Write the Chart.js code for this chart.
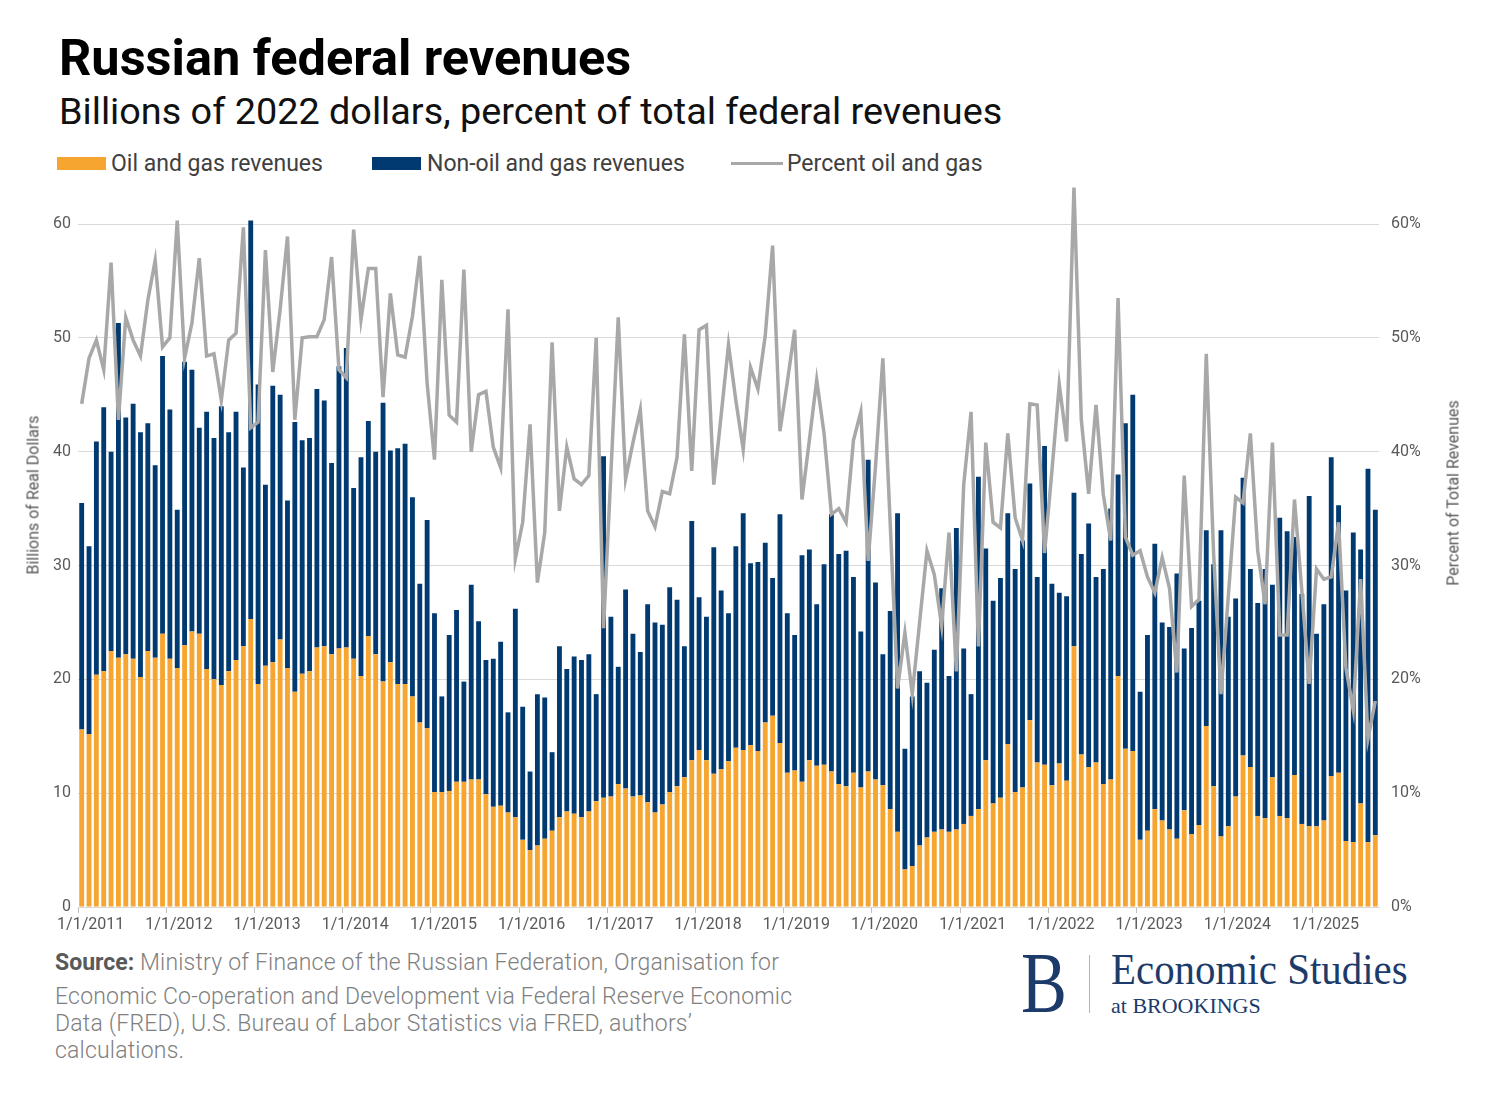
<!DOCTYPE html>
<html>
<head>
<meta charset="utf-8">
<title>Russian federal revenues</title>
<script src="https://cdn.jsdelivr.net/npm/chart.js@4.4.1/dist/chart.umd.min.js"></script>
<style>
    html, body { margin: 0; padding: 0; background: #fff; }
    #page { position: relative; width: 1500px; height: 1107px; overflow: hidden; font-family: Roboto, "Noto Sans", sans-serif; }
    .abs { position: absolute; white-space: nowrap; }
    #title { left: 59px; top: 33px; font-size: 50.5px; line-height: 50px; font-weight: 700; color: #000; }
    #subtitle { left: 59px; top: 93px; font-size: 37.8px; line-height: 37px; color: #111; }
    .lg-txt { top: 152px; font-size: 23px; line-height: 23px; color: #404040; }
    .lg-box { top: 157px; width: 49px; height: 13px; }
    .lg-line { top: 162px; width: 52px; height: 3px; background: #a8a8a8; }
    .axis-title { font-size: 16px; color: #595959; transform: translate(-50%, -50%) rotate(-90deg); }
    #wrap { position: absolute; left: 0; top: 182px; width: 1500px; height: 760px; }
    .src { left: 55px; font-size: 23px; line-height: 23px; font-weight: 300; letter-spacing: 0.2px; color: #7f7f7f; }
    .src b { font-weight: 700; color: #595959; letter-spacing: 0; }
    .logo { font-family: "Liberation Serif", "DejaVu Serif", serif; color: #1d3b6a; transform-origin: left top; }
</style>
</head>
<body>
<div id="page">
    <div id="title" class="abs">Russian federal revenues</div>
    <div id="subtitle" class="abs">Billions of 2022 dollars, percent of total federal revenues</div>

    <div class="abs lg-box" style="left:57px; background:#f5a530;"></div>
    <div class="abs lg-txt" style="left:111px;">Oil and gas revenues</div>
    <div class="abs lg-box" style="left:372px; background:#003a70;"></div>
    <div class="abs lg-txt" style="left:427px;">Non-oil and gas revenues</div>
    <div class="abs lg-line" style="left:731px;"></div>
    <div class="abs lg-txt" style="left:787px;">Percent oil and gas</div>

    <div id="wrap"><canvas id="chart"></canvas></div>

    <div class="abs axis-title" style="left:33px; top:495px;">Billions of Real Dollars</div>
    <div class="abs axis-title" style="left:1453px; top:493px;">Percent of Total Revenues</div>

    <div class="abs src" style="top:951px;"><b>Source:</b> Ministry of Finance of the Russian Federation, Organisation for</div>
    <div class="abs src" style="top:985px;">Economic Co-operation and Development via Federal Reserve Economic</div>
    <div class="abs src" style="top:1012px;">Data (FRED), U.S. Bureau of Labor Statistics via FRED, authors’</div>
    <div class="abs src" style="top:1039px;">calculations.</div>

    <div class="abs logo" style="left:1021px; top:940px; font-size:86px; line-height:86px; transform:scaleX(0.8);">B</div>
    <div class="abs" style="left:1089px; top:955px; width:1px; height:58px; background:#a9b3c2;"></div>
    <div class="abs logo" style="left:1111px; top:948px; font-size:44px; line-height:44px; transform:scaleX(0.93);">Economic Studies</div>
    <div class="abs logo" style="left:1111px; top:995px; font-size:22px; line-height:22px;">at BROOKINGS</div>
</div>

<script>
// DATA - monthly, Jan 2011 .. Sep 2025 (one row per year)
const years = ['2011', '2012', '2013', '2014', '2015', '2016', '2017', '2018', '2019', '2020', '2021', '2022', '2023', '2024', '2025'];

// billions of 2022 dollars
const oilGas = [
    15.6, 15.2, 20.4, 20.7, 22.5, 21.9, 22.2, 21.8, 20.2, 22.5, 21.9, 24.0,
    21.8, 21.0, 23.0, 24.2, 24.0, 20.9, 20.0, 19.5, 20.7, 21.7, 22.9, 25.3,
    19.6, 21.2, 21.5, 23.5, 21.0, 18.9, 20.5, 20.7, 22.8, 22.9, 22.2, 22.7,
    22.8, 21.8, 20.3, 23.8, 22.2, 19.8, 21.5, 19.6, 19.6, 18.5, 16.2, 15.7,
    10.1, 10.1, 10.2, 11.0, 11.0, 11.2, 11.2, 9.9, 8.8, 8.9, 8.3, 7.9,
    5.9, 5.0, 5.4, 6.0, 6.7, 7.9, 8.4, 8.2, 7.9, 8.4, 9.3, 9.6,
    9.7, 10.8, 10.4, 9.7, 9.8, 9.2, 8.3, 9.0, 10.1, 10.6, 11.4, 12.9,
    13.8, 12.9, 11.7, 12.1, 12.8, 14.0, 13.8, 14.2, 13.7, 16.2, 16.8, 14.4,
    11.8, 12.0, 11.0, 12.9, 12.4, 12.5, 11.9, 10.8, 10.6, 11.8, 10.5, 11.9,
    11.2, 10.7, 8.6, 6.6, 3.3, 3.6, 5.4, 6.1, 6.6, 6.8, 6.6, 6.8,
    7.3, 8.0, 8.6, 12.9, 9.1, 9.6, 14.3, 10.1, 10.5, 16.4, 12.7, 12.5,
    10.7, 12.6, 11.1, 22.9, 13.4, 12.3, 12.7, 10.8, 11.2, 20.3, 13.9, 13.7,
    5.9, 6.7, 8.6, 7.6, 6.8, 6.0, 8.5, 6.4, 7.2, 15.9, 10.6, 6.2,
    7.1, 9.7, 13.3, 12.3, 8.0, 7.8, 11.4, 8.0, 7.8, 11.6, 7.3, 7.1,
    7.1, 7.6, 11.5, 11.8, 5.8, 5.7, 9.1, 5.7, 6.3
];

const nonOilGas = [
    19.9, 16.5, 20.5, 23.2, 17.5, 29.4, 20.8, 22.4, 21.5, 20.0, 16.9, 24.4,
    21.9, 13.9, 24.9, 23.0, 18.1, 22.6, 21.2, 24.5, 21.0, 21.8, 15.7, 35.0,
    26.3, 15.9, 24.3, 21.5, 14.7, 23.7, 20.5, 20.5, 22.7, 21.6, 16.8, 24.8,
    26.3, 15.0, 19.2, 18.9, 17.8, 24.5, 18.6, 20.7, 21.1, 17.5, 12.2, 18.3,
    15.7, 8.4, 13.7, 15.1, 8.8, 17.1, 13.9, 11.8, 13.0, 14.4, 8.8, 18.3,
    11.7, 6.9, 13.3, 12.4, 6.9, 15.0, 12.5, 13.8, 13.8, 13.8, 9.4, 30.0,
    15.8, 10.3, 17.5, 14.3, 12.6, 17.4, 16.7, 15.8, 18.0, 16.4, 11.5, 21.0,
    13.4, 12.6, 19.9, 15.7, 13.0, 17.7, 20.8, 16.0, 16.6, 15.8, 12.1, 20.1,
    14.0, 11.9, 19.9, 18.5, 14.2, 17.6, 22.6, 20.2, 20.7, 17.2, 13.7, 27.4,
    17.3, 11.5, 17.4, 28.0, 10.6, 14.9, 15.3, 13.6, 16.0, 21.2, 13.7, 26.5,
    15.4, 10.7, 29.2, 18.6, 17.8, 19.3, 20.3, 19.6, 21.7, 20.8, 16.3, 28.0,
    17.7, 15.0, 16.2, 13.5, 17.6, 21.4, 16.3, 18.9, 23.8, 17.7, 28.6, 31.3,
    13.0, 17.2, 23.3, 17.4, 17.8, 23.3, 14.2, 18.1, 19.7, 17.2, 19.5, 26.9,
    18.4, 17.4, 24.4, 17.4, 18.7, 21.9, 16.9, 26.2, 25.2, 20.9, 20.2, 29.0,
    16.9, 19.0, 28.0, 23.5, 22.0, 27.2, 22.3, 32.8, 28.6
];

// percent of total revenues
const pctOilGas = [
    44.2, 48.2, 49.8, 47.2, 56.6, 42.8, 51.8, 49.8, 48.4, 53.3, 56.8, 49.2,
    50.0, 60.3, 48.2, 51.3, 57.0, 48.4, 48.6, 44.5, 49.8, 50.4, 59.7, 42.1,
    42.6, 57.7, 47.0, 52.5, 58.9, 42.8, 50.0, 50.1, 50.1, 51.6, 57.1, 47.2,
    46.5, 59.5, 51.6, 56.1, 56.1, 44.8, 53.9, 48.5, 48.3, 51.9, 57.2, 46.0,
    39.3, 55.1, 43.2, 42.6, 56.0, 40.0, 45.0, 45.3, 40.4, 38.6, 52.5, 30.6,
    33.8, 42.4, 28.5, 32.9, 49.6, 34.8, 40.4, 37.6, 37.1, 37.9, 50.0, 24.5,
    38.1, 51.8, 37.6, 40.8, 43.7, 34.8, 33.4, 36.5, 36.3, 39.5, 50.3, 38.3,
    50.7, 51.1, 37.1, 43.2, 49.4, 44.5, 40.2, 47.4, 45.5, 50.2, 58.1, 41.8,
    46.1, 50.7, 35.8, 41.0, 46.3, 41.6, 34.5, 35.0, 33.8, 41.0, 43.5, 30.4,
    38.7, 48.2, 33.7, 19.2, 24.1, 18.7, 25.0, 31.3, 29.2, 24.7, 32.9, 20.7,
    37.1, 43.5, 22.9, 40.8, 33.8, 33.3, 41.6, 34.2, 32.2, 44.2, 44.1, 31.1,
    38.3, 45.9, 40.9, 63.2, 42.8, 36.3, 44.1, 36.2, 32.2, 53.5, 32.5, 30.9,
    31.3, 29.0, 27.6, 30.7, 28.0, 20.6, 37.9, 26.4, 27.0, 48.6, 31.0, 18.7,
    27.3, 36.0, 35.5, 41.6, 31.3, 26.6, 40.8, 23.9, 23.9, 35.8, 27.8, 19.6,
    29.7, 28.8, 29.0, 33.8, 21.0, 17.3, 28.8, 14.8, 18.1
];

const yTicks = [0, 10, 20, 30, 40, 50, 60];

// month labels like 1/1/2011
const months = [];
years.forEach(function (y) {
    for (let m = 1; m <= 12; m++) {
        if (months.length < oilGas.length) months.push(m + '/1/' + y);
    }
});

const tickColor = '#595959';
const tickFont = { family: 'Roboto', size: 16 };

// CHART
new Chart(document.getElementById('chart'), {
    type: 'bar',
    data: {
        labels: months,
        datasets: [{
            label: 'Oil and gas revenues',
            data: oilGas,
            backgroundColor: '#f5a530',
            stack: 'rev',
            order: 2,
            barPercentage: 0.66,
            categoryPercentage: 1,
            clip: false
        }, {
            label: 'Non-oil and gas revenues',
            data: nonOilGas,
            backgroundColor: '#003a70',
            stack: 'rev',
            order: 2,
            barPercentage: 0.66,
            categoryPercentage: 1,
            clip: false
        }, {
            type: 'line',
            label: 'Percent oil and gas',
            data: pctOilGas,
            yAxisID: 'y1',
            borderColor: '#a8a8a8',
            borderWidth: 3.5,
            pointRadius: 0,
            tension: 0,
            order: 1,
            clip: false
        }]
    },
    options: {
        responsive: true,
        maintainAspectRatio: false,
        animation: false,
        layout: { padding: { top: 42, left: 0, right: 0, bottom: 0 } },
        plugins: {
            legend: { display: false },
            tooltip: { enabled: false }
        },
        scales: {
            x: {
                stacked: true,
                offset: true,
                grid: {
                    offset: true,
                    drawOnChartArea: false,
                    drawTicks: true,
                    tickLength: 6,
                    color: function (c) { return c.index % 12 === 0 ? '#bfbfbf' : 'rgba(0,0,0,0)'; }
                },
                border: { display: true, color: '#d9d9d9' },
                ticks: {
                    autoSkip: false,
                    maxRotation: 0,
                    minRotation: 0,
                    padding: 2,
                    labelOffset: 9,
                    color: tickColor,
                    font: tickFont,
                    callback: function (v, i) { return i % 12 === 0 ? months[i] : ''; }
                },
                afterFit: function (s) { s.height = 35; }
            },
            y: {
                stacked: true,
                min: yTicks[0],
                max: yTicks[yTicks.length - 1],
                grid: { color: '#d9d9d9', drawTicks: false },
                border: { display: false },
                ticks: { stepSize: 10, padding: 7, color: tickColor, font: tickFont },
                afterFit: function (s) { s.width = 78; }
            },
            y1: {
                position: 'right',
                min: yTicks[0],
                max: yTicks[yTicks.length - 1],
                grid: { drawOnChartArea: false, drawTicks: false },
                border: { display: false },
                ticks: {
                    stepSize: 10,
                    padding: 12,
                    color: tickColor,
                    font: tickFont,
                    callback: function (v) { return v + '%'; }
                },
                afterFit: function (s) { s.width = 121; }
            }
        }
    }
});
</script>
</body>
</html>
